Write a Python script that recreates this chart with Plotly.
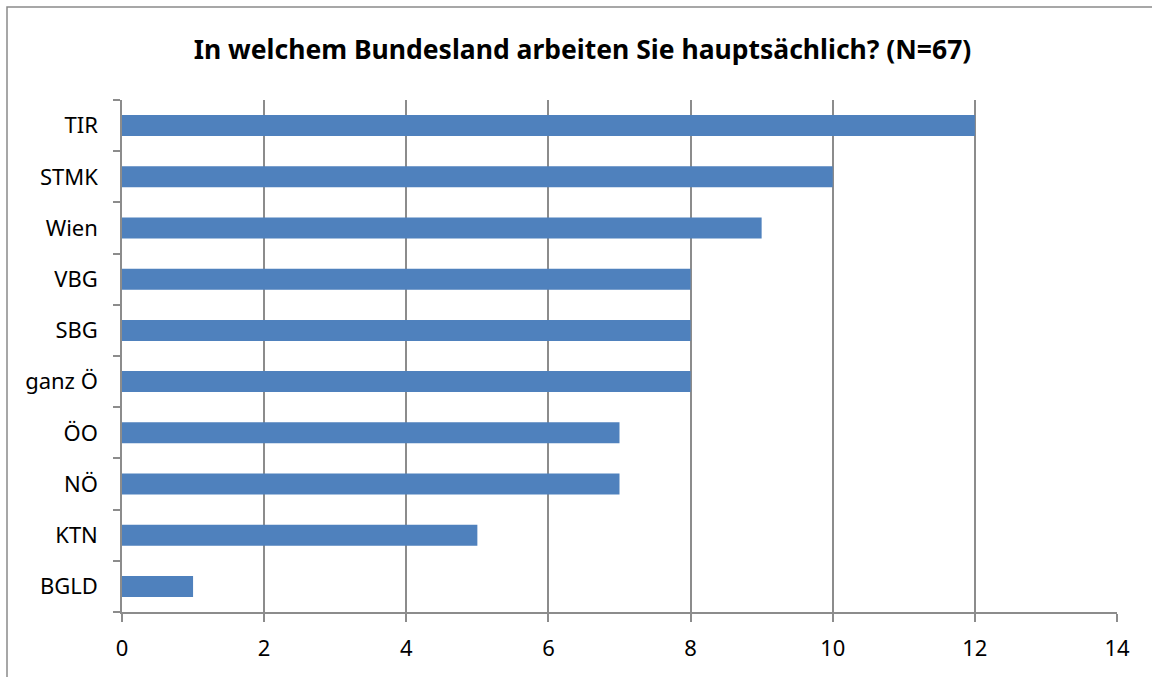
import plotly.graph_objects as go

categories = ["TIR", "STMK", "Wien", "VBG", "SBG", "ganz Ö", "ÖO", "NÖ", "KTN", "BGLD"]
values = [12, 10, 9, 8, 8, 8, 7, 7, 5, 1]
x_ticks = [0, 2, 4, 6, 8, 10, 12, 14]
title_text = "In welchem Bundesland arbeiten Sie hauptsächlich? (N=67)"

FONT = "Noto Sans"
GRID = "#8c8c8c"

fig = go.Figure(go.Bar(
    y=categories[::-1],
    x=values[::-1],
    orientation="h",
    marker=dict(color="#4F81BD", line=dict(width=0)),
    width=0.41,
    hoverinfo="x+y",
))

fig.update_layout(
    width=1152, height=677,
    margin=dict(l=122, r=35, t=100, b=65),
    paper_bgcolor="white",
    plot_bgcolor="white",
    showlegend=False,
    title=dict(text="<b>" + title_text + "</b>", x=582.5 / 1152, xanchor="center",
               y=1 - 50 / 677, yanchor="middle",
               font=dict(family=FONT, size=26.5, color="black")),
    font=dict(family=FONT, size=22, color="black"),
)

fig.update_xaxes(
    range=[0, 14], tickvals=x_ticks, ticktext=[str(v) for v in x_ticks],
    showgrid=True, gridcolor=GRID, gridwidth=1.5,
    showline=True, linecolor=GRID, linewidth=1.5,
    ticks="outside", ticklen=8, tickcolor=GRID, tickwidth=1.5,
    ticklabelstandoff=8, zeroline=False,
    tickfont=dict(family=FONT, size=22, color="black"),
)
fig.update_yaxes(
    type="category", categoryorder="array", categoryarray=categories[::-1],
    showgrid=False,
    showline=True, linecolor=GRID, linewidth=1.5,
    ticks="outside", ticklen=7, tickcolor=GRID, tickwidth=1.5,
    tickson="boundaries", ticklabelstandoff=18,
    tickfont=dict(family=FONT, size=22, color="black"),
)

fig.add_shape(type="rect", xref="paper", yref="paper",
              x0=(7 - 122) / 995, x1=(1160 - 122) / 995,
              y0=(612 - 690) / 512, y1=(612 - 7) / 512,
              line=dict(color="#8a8a8a", width=1.5), fillcolor="rgba(0,0,0,0)",
              layer="below")

fig.write_html("out.html", config={"displayModeBar": False},
               post_script="document.body.style.margin='0';document.body.style.overflow='hidden';")
